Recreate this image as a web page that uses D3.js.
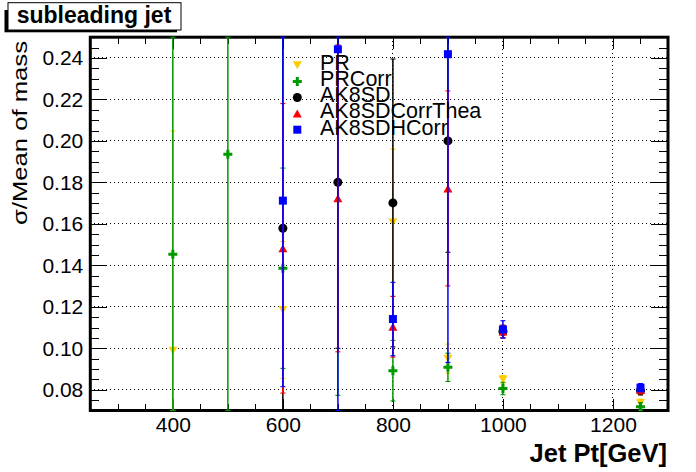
<!DOCTYPE html>
<html>
<head>
<meta charset="utf-8">
<script src="https://cdn.jsdelivr.net/npm/d3@7"></script>
<style>
body { margin: 0; background: #fff; }
svg { display: block; font-family: "Liberation Sans", Arial, sans-serif; }
</style>
</head>
<body>
<svg id="chart" width="696" height="472"></svg>
<script>
// jet pt bins (GeV)
const ptBins = [400, 500, 600, 700, 800, 900, 1000, 1250];

// sigma / mean of mass per bin, null = no point
const prVal   = [0.0988, null, 0.1185, null, 0.1606, 0.0950, 0.0849, 0.0735];
const prErr   = [0.106,  null, 0.033,  null, 0.0355, 0.007,  0.002,  0.002];
const prCorrVal = [0.1453, 0.1935, 0.1386, 0.1417, 0.0892, 0.0908, 0.0806, 0.0718];
const prCorrErr = [0.2,    0.2,    0.0483, 0.0644, 0.0146, 0.0068, 0.003,  0.002];
const prCorrNoMarker = [700]; // only the error bar shows in this bin
const sdVal   = [null, null, 0.1579, 0.1800, 0.1701, 0.2000, 0.1081, 0.0795];
const sdErr   = [null, null, 0.1,    0.08,   0.0694, 0.0537, 0.003,  0.002];
const sdTheaVal = [null, null, 0.1482, 0.1723, 0.1104, 0.1771, 0.1081, 0.0800];
const sdTheaErr = [null, null, 0.0698, 0.074,  0.0146, 0.047,  0.003,  0.002];
const sdHVal  = [null, null, 0.1712, 0.2442, 0.1141, 0.2418, 0.1091, 0.0810];
const sdHErr  = [null, null, 0.0897, 0.18,   0.0177, 0.1486, 0.0042, 0.002];

const xMajor = [400, 600, 800, 1000, 1200];
const yMajor = [0.08, 0.10, 0.12, 0.14, 0.16, 0.18, 0.20, 0.22, 0.24];

const svg = d3.select("#chart");
const pLeft = 90.3, pRight = 668, pTop = 37.2, pBottom = 410.5;

const x = d3.scaleLinear().domain([250, 1300]).range([pLeft, pRight]);
const y = d3.scaleLinear().domain([0.07, 0.25]).range([pBottom, pTop]);

const xMinor = d3.range(250, 1301, 50);
const yMinor = d3.range(0, 37).map(i => 0.07 + i * 0.005);

// grid
const grid = svg.append("g")
    .attr("stroke", "#000")
    .attr("stroke-width", 1)
    .attr("shape-rendering", "crispEdges")
    .attr("stroke-dasharray", "1,3");
grid.selectAll(".gx").data(xMajor).enter().append("line")
    .attr("x1", d => x(d)).attr("x2", d => x(d))
    .attr("y1", pTop).attr("y2", pBottom);
grid.selectAll(".gy").data(yMajor).enter().append("line")
    .attr("x1", pLeft).attr("x2", pRight)
    .attr("y1", d => y(d)).attr("y2", d => y(d));

// axes, ticks pointing inwards on all four sides
function styleAxis(g) {
    g.select(".domain").remove();
    g.selectAll(".tick line").attr("stroke", "#000").attr("stroke-width", 1)
        .attr("shape-rendering", "crispEdges");
    g.selectAll("text").attr("fill", "#000").attr("font-family", "Liberation Sans, Arial, sans-serif");
}

svg.append("g").attr("transform", `translate(0,${pBottom})`)
    .call(d3.axisBottom(x).tickValues(xMinor).tickSize(-6.5).tickFormat(""))
    .call(styleAxis);
svg.append("g").attr("transform", `translate(0,${pBottom})`)
    .call(d3.axisBottom(x).tickValues(xMajor).tickSize(-12).tickPadding(6.6).tickFormat(d3.format("d")))
    .call(styleAxis)
    .selectAll("text").attr("font-size", 21);
svg.append("g").attr("transform", `translate(0,${pTop})`)
    .call(d3.axisTop(x).tickValues(xMinor).tickSize(-6.5).tickFormat(""))
    .call(styleAxis);
svg.append("g").attr("transform", `translate(0,${pTop})`)
    .call(d3.axisTop(x).tickValues(xMajor).tickSize(-12).tickFormat(""))
    .call(styleAxis);

svg.append("g").attr("transform", `translate(${pLeft},0)`)
    .call(d3.axisLeft(y).tickValues(yMinor).tickSize(-9).tickFormat(""))
    .call(styleAxis);
svg.append("g").attr("transform", `translate(${pLeft},0)`)
    .call(d3.axisLeft(y).tickValues(yMajor).tickSize(-17).tickPadding(7).tickFormat(d3.format(".2f")))
    .call(styleAxis)
    .selectAll("text").attr("font-size", 21);
svg.append("g").attr("transform", `translate(${pRight},0)`)
    .call(d3.axisRight(y).tickValues(yMinor).tickSize(-9).tickFormat(""))
    .call(styleAxis);
svg.append("g").attr("transform", `translate(${pRight},0)`)
    .call(d3.axisRight(y).tickValues(yMajor).tickSize(-17).tickFormat(""))
    .call(styleAxis);

// frame
svg.append("rect")
    .attr("x", pLeft).attr("y", pTop)
    .attr("width", pRight - pLeft).attr("height", pBottom - pTop)
    .attr("fill", "none").attr("stroke", "#000").attr("stroke-width", 3);

// markers
const shapes = {
    triDown: "M-4.5,-4L4.5,-4L0,4Z",
    triUp: "M0,-4L4.5,4L-4.5,4Z",
    plus: d3.symbol(d3.symbolCross, 45)(),
    circle: d3.symbol(d3.symbolCircle, Math.PI * 4.5 * 4.5)(),
    square: "M-4,-4H4V4H-4Z"
};

const series = [
    {name: "PR", val: prVal, err: prErr, color: "#ffcc00", shape: "triDown", noMarker: []},
    {name: "PRCorr", val: prCorrVal, err: prCorrErr, color: "#009900", shape: "plus", noMarker: prCorrNoMarker},
    {name: "AK8SD", val: sdVal, err: sdErr, color: "#000000", shape: "circle", noMarker: []},
    {name: "AK8SDCorrThea", val: sdTheaVal, err: sdTheaErr, color: "#ff0000", shape: "triUp", noMarker: []},
    {name: "AK8SDHCorr", val: sdHVal, err: sdHErr, color: "#0000ff", shape: "square", noMarker: []}
];

const clampY = v => y(Math.max(0.07, Math.min(0.25, v)));

series.forEach(s => {
    const pts = ptBins.map((b, i) => ({x: b, v: s.val[i], e: s.err[i]}))
        .filter(p => p.v !== null);
    const g = svg.append("g").attr("stroke", s.color).attr("fill", s.color);

    const eb = g.selectAll(".eb").data(pts).enter().append("g");
    eb.append("line")
        .attr("x1", d => x(d.x)).attr("x2", d => x(d.x))
        .attr("y1", d => clampY(d.v + d.e)).attr("y2", d => clampY(d.v - d.e))
        .attr("stroke-width", 1.5);
    eb.append("line")
        .attr("x1", d => x(d.x) - 2.5).attr("x2", d => x(d.x) + 2.5)
        .attr("y1", d => clampY(d.v + d.e)).attr("y2", d => clampY(d.v + d.e))
        .attr("stroke-width", 1.1);
    eb.append("line")
        .attr("x1", d => x(d.x) - 2.5).attr("x2", d => x(d.x) + 2.5)
        .attr("y1", d => clampY(d.v - d.e)).attr("y2", d => clampY(d.v - d.e))
        .attr("stroke-width", 1.1);

    g.selectAll(".mk").data(pts.filter(p => !s.noMarker.includes(p.x))).enter().append("path")
        .attr("d", shapes[s.shape])
        .attr("stroke", "none")
        .attr("transform", d => `translate(${x(d.x)},${y(d.v)})`);
});

// legend
const legend = svg.append("g");
series.forEach((s, i) => {
    const ly = 65.3 + i * 16.1;
    legend.append("path")
        .attr("d", shapes[s.shape])
        .attr("fill", s.color)
        .attr("transform", `translate(297.3,${ly})`);
    legend.append("text")
        .attr("x", 320).attr("y", ly + 4.8)
        .attr("font-size", 21.5)
        .text(s.name);
});

// axis titles
svg.append("text")
    .attr("x", 667).attr("y", 462)
    .attr("text-anchor", "end")
    .attr("font-size", 25.5).attr("font-weight", "bold")
    .text("Jet Pt[GeV]");

svg.append("text")
    .attr("transform", "translate(27,225) rotate(-90)")
    .attr("font-size", 20)
    .attr("textLength", 184)
    .attr("lengthAdjust", "spacingAndGlyphs")
    .text("σ/Mean of mass");

// title box with shadow
svg.append("rect").attr("x", 4.5).attr("y", 10).attr("width", 172.5).attr("height", 22.3).attr("fill", "#000");
svg.append("rect").attr("x", 8).attr("y", 2.7).attr("width", 173).attr("height", 27.3)
    .attr("fill", "#fff").attr("stroke", "#000").attr("stroke-width", 1);
svg.append("text")
    .attr("x", 94).attr("y", 23)
    .attr("text-anchor", "middle")
    .attr("font-size", 23).attr("font-weight", "bold")
    .text("subleading jet");
</script>
</body>
</html>
